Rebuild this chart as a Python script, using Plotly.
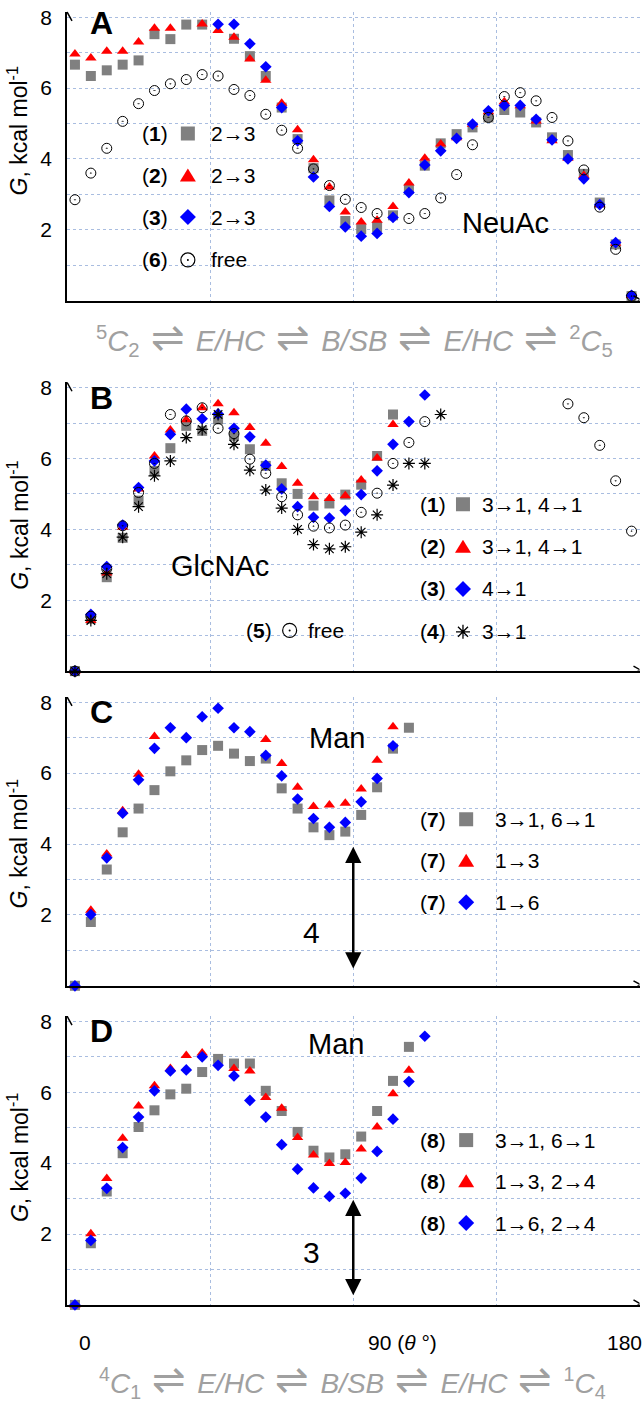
import plotly.graph_objects as go

W, H = 644, 1404
FONT = "Liberation Sans, Arial, sans-serif"
GRID = "#a9bde0"
GREY, RED, BLUE = "#808080", "#ff0000", "#0000ff"

# scan steps along the pseudorotation path (36 points, 0 .. 180 deg)
step = list(range(36))

# A - NeuAc
a_sq = [6.66, 6.34, 6.50, 6.66, 6.78, 7.52, 7.38, 7.79, 7.79, None, 7.39, 6.90, 6.34, 5.45, 4.56, 3.74, 2.83, 2.25,
        2.02, 2.08, 2.41, 3.16, 3.81, 4.44, 4.70, 4.89, 5.17, 5.38, 5.31, 5.03, 4.61, 4.11, 3.58, 2.77, 1.59, 0.13]
a_tri = [6.96, 6.85, 7.04, 7.04, 7.30, 7.69, 7.69, None, 7.81, 7.62, 7.43, 6.82, 6.22, 5.57, 4.82, 3.98, 3.21, 2.50,
         2.22, 2.27, 2.66, 3.32, 4.02, 4.42, 4.60, 4.98, 5.33, 5.61, 5.50, 5.07, 4.51, 4.02, 3.53, 2.71, 1.62, 0.15]
a_dia = [None, None, None, None, None, None, None, None, None, 7.80, 7.80, 7.25, 6.60, 5.45, 4.51, 3.49, 2.66, 2.08,
         1.82, 1.90, 2.35, 3.05, 3.83, 4.23, 4.58, 4.98, 5.36, 5.51, 5.51, 5.12, 4.54, 4.00, 3.44, 2.71, 1.64, 0.15]
a_free = [2.85, 3.60, 4.30, 5.06, 5.56, 5.93, 6.12, 6.24, 6.38, 6.34, 5.96, 5.79, 5.26, 4.81, 4.30, 3.72, 3.25, 2.86,
          2.63, 2.46, None, 2.32, 2.46, 2.90, 3.56, 4.40, 5.17, 5.76, 5.87, 5.64, 5.17, 4.51, 3.69, 2.64, 1.45, 0.13]

# B - GlcNAc
b_sq = [0, 1.48, 2.65, 3.76, 4.81, 5.65, 6.29, 6.92, 6.78, 7.10, 6.64, 6.26, 5.79, 5.30, 5.00, 4.67, 4.73, 4.98,
        5.26, 6.07, 7.24, None, None, None, None, None, None, None, None, None, None, None, None, None, None, None]
b_tri = [0, 1.43, 2.77, 4.06, 5.14, 6.07, 6.80, 7.09, 7.43, 7.54, 7.29, 6.87, 6.43, 5.77, 5.30, 4.92, 4.87, 4.95,
         5.39, 6.01, 6.96, None, None, None, None, None, None, None, None, None, None, None, None, None, None, None]
b_dia = [0, 1.60, 2.95, 4.12, 5.18, 5.93, 6.68, 7.39, 7.12, 7.26, 6.85, 6.61, 5.81, 5.14, 4.64, 4.34, 4.32, 4.53,
         4.98, 5.65, 6.40, 7.04, 7.79, None, None, None, None, None, None, None, None, None, None, None, None, None]
b_free = [0, 1.55, 2.89, 4.10, 5.04, 5.86, 7.24, 7.06, 7.43, 6.85, 6.70, 5.98, 5.58, 4.92, 4.41, 4.09, 4.04, 4.12,
          4.48, 5.02, 5.86, 6.45, 7.04, None, None, None, None, None, None, None, None, 7.54, 7.15, 6.37, 5.37, 3.95]
b_ast = [0, 1.43, 2.75, 3.78, 4.64, 5.51, 5.93, 6.59, 6.82, 7.24, 6.40, 5.67, 5.11, 4.60, 4.00, 3.57, 3.45, 3.51,
         3.92, 4.41, 5.25, 5.86, 5.86, 7.24, None, None, None, None, None, None, None, None, None, None, None, None]

# C - Man (7)
c_sq = [0, 1.80, 3.28, 4.33, 5.00, 5.52, 6.05, 6.36, 6.65, 6.77, 6.55, 6.34, 6.41, 5.57, 5.00, 4.47, 4.25, 4.35,
        4.82, 5.60, 6.69, 7.28, None, None, None, None, None, None, None, None, None, None, None, None, None, None]
c_tri = [0, 2.13, 3.72, 4.94, 5.97, 7.03, None, None, None, None, None, None, 6.95, 6.27, 5.60, 5.06, 5.10, 5.15,
         5.55, 6.36, 7.31, None, None, None, None, None, None, None, None, None, None, None, None, None, None, None]
c_dia = [0, 2.01, 3.61, 4.87, 5.81, 6.70, 7.28, 7.00, 7.59, 7.83, 7.28, 7.17, 6.50, 5.92, 5.27, 4.72, 4.47, 4.61,
         5.19, 5.85, 6.77, None, None, None, None, None, None, None, None, None, None, None, None, None, None, None]

# D - Man (8)
d_sq = [0, 1.74, 3.20, 4.28, 5.02, 5.49, 5.94, 6.10, 6.57, 6.94, 6.81, 6.81, 6.04, 5.47, 4.88, 4.35, 4.16, 4.25,
        4.75, 5.47, 6.32, 7.28, None, None, None, None, None, None, None, None, None, None, None, None, None, None]
d_tri = [0, 2.01, 3.57, 4.70, 5.61, 6.18, 6.67, 7.04, 7.11, None, 6.67, 6.60, 5.85, 5.55, 4.72, 4.23, 3.99, 4.02,
         4.40, 5.02, 5.96, 6.62, None, None, None, None, None, None, None, None, None, None, None, None, None, None]
d_dia = [0, 1.82, 3.29, 4.44, 5.30, 6.04, 6.60, 6.63, 7.00, 6.76, 6.46, 5.77, 5.30, 4.52, 3.83, 3.30, 3.06, 3.15,
         3.58, 4.33, 5.24, 6.30, 7.58, None, None, None, None, None, None, None, None, None, None, None, None, None]

y_ticks = [2, 4, 6, 8]
y_minor = [1, 3, 5, 7]

panels = [
    dict(letter="A", base=296, sugar="NeuAc", sugar_xy=(27.1, 2.2), letter_y=7.83,
         series=[("sq", a_sq), ("tri", a_tri), ("dia", a_dia), ("free", a_free)],
         legend=[("1", "sq", "2→3"), ("2", "tri", "2→3"), ("3", "dia", "2→3"), ("6", "free", "free")],
         leg_x=(4.1, 7.1, 8.4), leg_y=[4.72, 3.53, 2.36, 1.15], title_y=126),
    dict(letter="B", base=668, sugar="GlcNAc", sugar_xy=(9.1, 2.98), letter_y=7.71,
         series=[("sq", b_sq), ("tri", b_tri), ("dia", b_dia), ("free", b_free), ("ast", b_ast)],
         legend=[("1", "sq", "3→1, 4→1"), ("2", "tri", "3→1, 4→1"), ("3", "dia", "4→1"), ("4", "ast", "3→1")],
         leg_x=(21.6, 24.4, 25.5), leg_y=[4.71, 3.51, 2.32, 1.11], title_y=522),
    dict(letter="C", base=984, sugar="Man", sugar_xy=(16.5, 7.0), letter_y=7.72,
         series=[("sq", c_sq), ("tri", c_tri), ("dia", c_dia)],
         legend=[("7", "sq", "3→1, 6→1"), ("7", "tri", "1→3"), ("7", "dia", "1→6")],
         leg_x=(21.6, 24.6, 26.3), leg_y=[4.70, 3.53, 2.36], title_y=842,
         barrier=(3.92, 0.25, "4", 1.5)),
    dict(letter="D", base=1304.5, sugar="Man", sugar_xy=(16.4, 7.35), letter_y=7.72,
         series=[("sq", d_sq), ("tri", d_tri), ("dia", d_dia)],
         legend=[("8", "sq", "3→1, 6→1"), ("8", "tri", "1→3, 2→4"), ("8", "dia", "1→6, 2→4")],
         leg_x=(21.6, 24.6, 26.3), leg_y=[4.65, 3.49, 2.31], title_y=1157,
         barrier=(2.97, 0.03, "3", 1.49)),
]

marker_style = {
    "sq": dict(symbol="square", size=10, color=GREY),
    "tri": dict(symbol="triangle-up", size=10, color=RED),
    "dia": dict(symbol="diamond", size=9, color=BLUE),
    "free": dict(symbol="circle-open-dot", size=10, color="black", line=dict(width=1)),
    "ast": dict(symbol="asterisk", size=10, line=dict(width=1.2, color="black")),
}

Y_TOP = 8.15
UNIT = 35.6


def py(p):
    return 1 - p / H


def legend_shape(kind, xr, yr, x, y):
    base = dict(xref=xr, yref=yr, xsizemode="pixel", ysizemode="pixel", xanchor=x, yanchor=y, layer="above")
    if kind == "sq":
        return [dict(type="rect", x0=-7, x1=7, y0=-7, y1=7, fillcolor=GREY, line_width=0, **base)]
    if kind == "tri":
        return [dict(type="path", path="M -8,-6 L 8,-6 L 0,7 Z", fillcolor=RED, line_width=0, **base)]
    if kind == "dia":
        return [dict(type="path", path="M -8,0 L 0,8 L 8,0 L 0,-8 Z", fillcolor=BLUE, line_width=0, **base)]
    if kind == "free":
        return [dict(type="circle", x0=-7, x1=7, y0=-7, y1=7, line=dict(color="black", width=1.2), **base),
                dict(type="circle", x0=-1, x1=1, y0=-1, y1=1, fillcolor="black", line_width=0, **base)]
    return [dict(type="path", path="M -7,0 L 7,0 M 0,-7 L 0,7 M -5,-5 L 5,5 M -5,5 L 5,-5",
                 line=dict(color="black", width=1.3), **base)]


fig = go.Figure()
shapes = []
annotations = []

for k, p in enumerate(panels, start=1):
    sfx = "" if k == 1 else str(k)
    xr, yr = "x" + sfx, "y" + sfx
    for kind, vals in p["series"]:
        fig.add_trace(go.Scatter(x=step, y=vals, mode="markers", marker=marker_style[kind],
                                 xaxis=xr, yaxis=yr, cliponaxis=False, showlegend=False))

    top = p["base"] - Y_TOP * UNIT
    fig.update_layout({
        "xaxis" + sfx: dict(domain=[67 / W, 639.5 / W], range=[-0.5, 35.5], anchor=yr,
                            tickvals=[8.5, 17.5, 26.5, 35.5], showticklabels=False, ticks="",
                            showgrid=True, gridcolor=GRID, griddash="dot", gridwidth=1,
                            showline=True, linecolor="black", linewidth=2, zeroline=False),
        "yaxis" + sfx: dict(domain=[py(p["base"]), py(top)], range=[0, Y_TOP], anchor=xr,
                            tickvals=y_ticks, ticks="", ticklabelstandoff=9,
                            tickfont=dict(size=21, color="black", family=FONT),
                            showgrid=True, gridcolor=GRID, griddash="dot", gridwidth=1,
                            minor=dict(tickvals=y_minor, showgrid=True, gridcolor=GRID, griddash="dot",
                                       gridwidth=1, ticks=""),
                            showline=True, linecolor="black", linewidth=1.5, zeroline=False),
    })

    # axis arrow heads
    shapes.append(dict(type="path", xref=xr, yref=yr, xsizemode="pixel", ysizemode="pixel",
                       xanchor=-0.5, yanchor=Y_TOP, path="M -5,-9 L 0,0 L 5,-9",
                       line=dict(color="black", width=1.5)))
    shapes.append(dict(type="path", xref=xr, yref=yr, xsizemode="pixel", ysizemode="pixel",
                       xanchor=35.5, yanchor=0, path="M -6,5 L 3,0 L -6,-5 M -2,0 L 3,0",
                       line=dict(color="black", width=1.5)))

    annotations.append(dict(xref=xr, yref=yr, x=0.85, y=p["letter_y"], text="<b>%s</b>" % p["letter"],
                            showarrow=False, xanchor="left", font=dict(size=32, color="black", family=FONT)))
    sx, sy = p["sugar_xy"]
    annotations.append(dict(xref=xr, yref=yr, x=sx, y=sy, text=p["sugar"], showarrow=False,
                            font=dict(size=29, color="black", family=FONT)))
    annotations.append(dict(xref="paper", yref="paper", x=18 / W, y=py(p["title_y"]), textangle=-90,
                            xanchor="center", yanchor="middle",
                            text="<i>G</i>, kcal mol<sup>-1</sup>", showarrow=False,
                            font=dict(size=23, color="black", family=FONT)))

    nx, mx, tx = p["leg_x"]
    for (num, kind, label), ly in zip(p["legend"], p["leg_y"]):
        annotations.append(dict(xref=xr, yref=yr, x=nx, y=ly, text="(<b>%s</b>)" % num, showarrow=False,
                                xanchor="left", font=dict(size=21, color="black", family=FONT)))
        annotations.append(dict(xref=xr, yref=yr, x=tx, y=ly, text=label, showarrow=False,
                                xanchor="left", font=dict(size=21, color="black", family=FONT)))
        shapes.extend(legend_shape(kind, xr, yr, mx, ly))

    if "barrier" in p:
        hi, lo, lab, laby = p["barrier"]
        annotations.append(dict(xref=xr, yref=yr, x=17.5, y=hi, ax=17.5, ay=lo, axref=xr, ayref=yr,
                                showarrow=True, arrowhead=2, arrowside="end+start",
                                arrowsize=1.3, arrowwidth=2.5, arrowcolor="black"))
        annotations.append(dict(xref=xr, yref=yr, x=14.9, y=laby, text=lab, showarrow=False,
                                font=dict(size=30, color="black", family=FONT)))

# (5) free entry in panel B
annotations.append(dict(xref="x2", yref="y2", x=10.6, y=1.15, text="(<b>5</b>)", showarrow=False,
                        xanchor="left", font=dict(size=21, color="black", family=FONT)))
annotations.append(dict(xref="x2", yref="y2", x=14.5, y=1.15, text="free", showarrow=False,
                        xanchor="left", font=dict(size=21, color="black", family=FONT)))
shapes.extend(legend_shape("free", "x2", "y2", 13.5, 1.15))

# conformer path captions
arrow = "<span style='font-size:40px'>&#160;⇌&#160;</span>"
cap_a = ("<sup>5</sup><i>C</i><sub>2</sub>" + arrow + "<i>E/HC</i>" + arrow + "<i>B/SB</i>" + arrow +
         "<i>E/HC</i>" + arrow + "<sup>2</sup><i>C</i><sub>5</sub>")
cap_d = ("<sup>4</sup><i>C</i><sub>1</sub>" + arrow + "<i>E/HC</i>" + arrow + "<i>B/SB</i>" + arrow +
         "<i>E/HC</i>" + arrow + "<sup>1</sup><i>C</i><sub>4</sub>")
annotations.append(dict(xref="paper", yref="paper", x=354 / W, y=py(333), text=cap_a, showarrow=False,
                        xanchor="center", yanchor="middle",
                        font=dict(size=29, color="#a0a0a0", family=FONT)))
annotations.append(dict(xref="paper", yref="paper", x=352 / W, y=py(1380), text=cap_d, showarrow=False,
                        xanchor="center", yanchor="middle",
                        font=dict(size=28, color="#a0a0a0", family=FONT)))

# x tick labels under panel D
for txt, xp, anc in [("0", 85, "center"), ("90 (<i>θ</i> °)", 366, "left"), ("180", 644, "right")]:
    annotations.append(dict(xref="paper", yref="paper", x=xp / W, y=py(1342), text=txt, showarrow=False,
                            xanchor=anc, yanchor="middle", font=dict(size=21, color="black", family=FONT)))

fig.update_layout(width=W, height=H, margin=dict(l=0, r=0, t=0, b=0),
                  plot_bgcolor="white", paper_bgcolor="white", showlegend=False,
                  font=dict(family=FONT, color="black"),
                  shapes=shapes, annotations=annotations)

fig.write_html("out.html", config={"displayModeBar": False},
               post_script="document.body.style.margin='0px';")
